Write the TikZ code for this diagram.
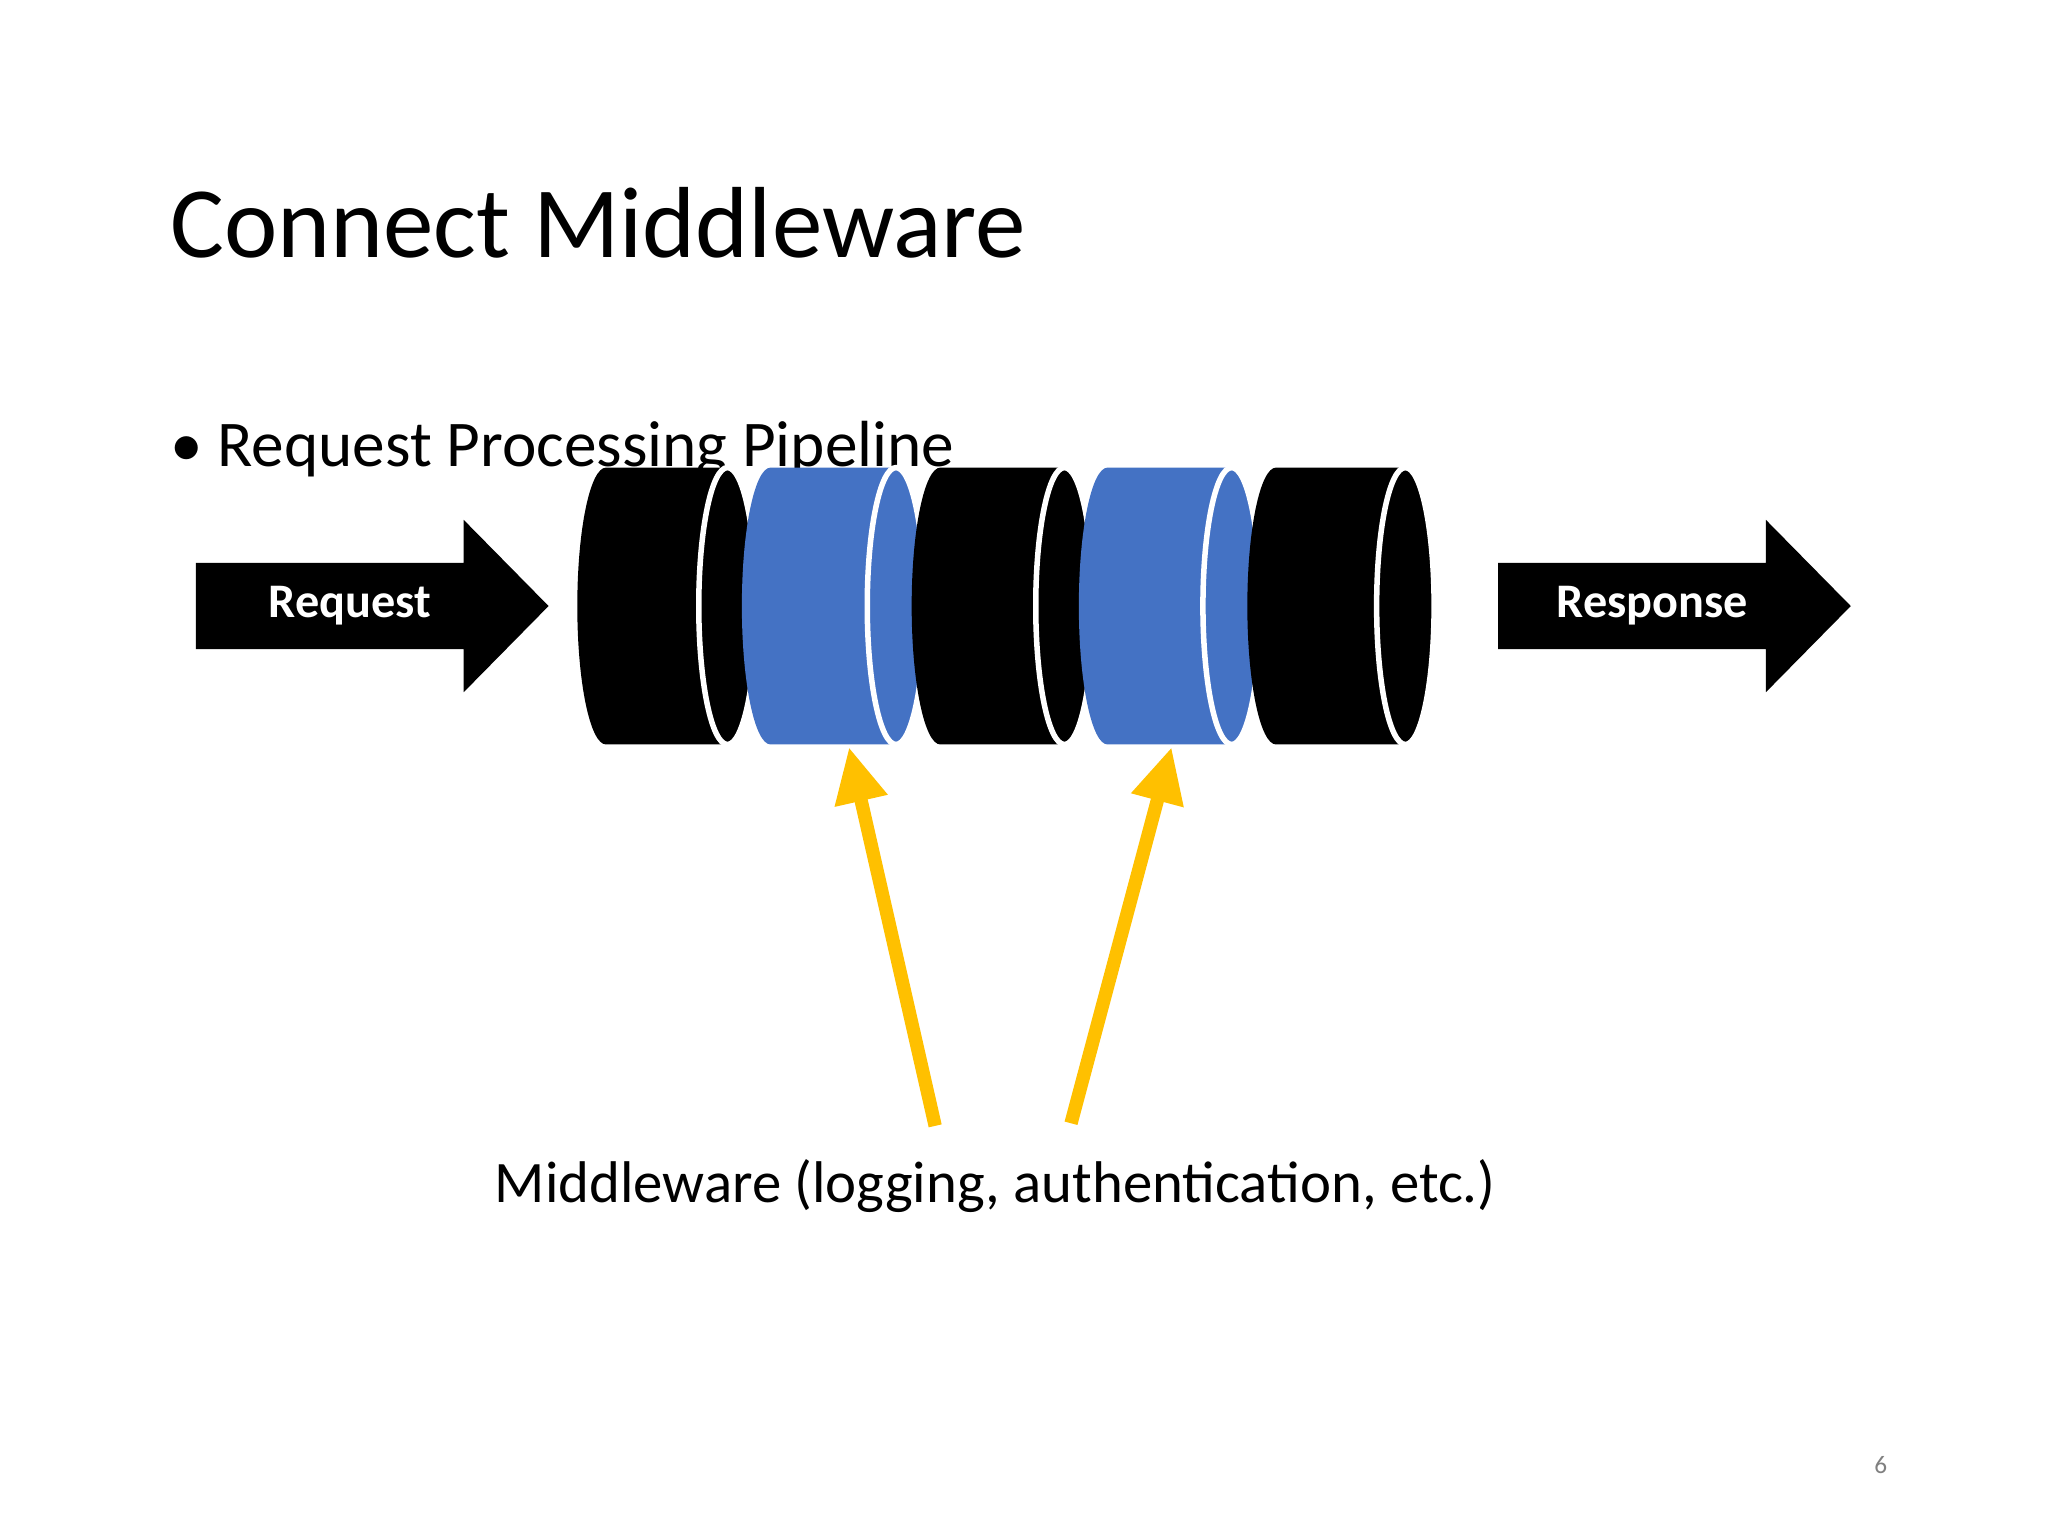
\documentclass[tikz,border=0pt]{standalone}
\usepackage{fontspec}
\setmainfont{Carlito}
\usetikzlibrary{arrows.meta}
\definecolor{mwblue}{HTML}{4472C4}
\definecolor{mwgold}{HTML}{FFC000}
\begin{document}
\begin{tikzpicture}[x=0.01cm,y=-0.01cm,
  seg/.style={line width=1.2pt,draw=white},
  blockarrow/.style={fill=black},
  hint/.style={draw=mwgold,line width=2.9pt,-{Triangle[width=11pt,length=12pt]}}]
\useasboundingbox (0,0) rectangle (1568,1176);
\pgfmathsetmacro{\ktop}{358}
\pgfmathsetmacro{\kbot}{570}
\pgfmathsetmacro{\krx}{22}
\node[anchor=base west,font=\fontsize{22}{26}\selectfont\addfontfeature{}] (title) at (118,197) {Connect Middleware};
\node[anchor=base west,font=\fontsize{14.2}{17}\selectfont] (bullet) at (118,357) {\textbullet\ Request Processing Pipeline};
\foreach \L/\R/\c/\n in {464/557/black/1,590/686/mwblue/2,720/815/black/3,848/943/mwblue/4,977/1076/black/5}{
  \fill[\c] (\L,\ktop) arc[start angle=90,end angle=270,x radius=\krx,y radius=-106] -- (\R,\kbot) -- (\R,\ktop) -- cycle;
  \filldraw[\c,seg] (\R,464) ellipse[x radius=\krx,y radius=106];
  \coordinate (s\n) at (\R-48,\kbot);}
\fill[blockarrow] (150,431) -- (355,431) -- (355,398) -- (420,464) -- (355,530) -- (355,497) -- (150,497) -- cycle;
\fill[blockarrow] (1147,431) -- (1352,431) -- (1352,398) -- (1417,464) -- (1352,530) -- (1352,497) -- (1147,497) -- cycle;
\node[white,font=\fontsize{10.5}{12}\selectfont\bfseries] (req) at (268,464) {Request};
\node[white,font=\fontsize{10.5}{12}\selectfont\bfseries] (resp) at (1265,464) {Response};
\node[anchor=base,font=\fontsize{12.8}{15}\selectfont] (mw) at (762,921) {Middleware (logging, authentication, etc.)};
\coordinate (m1) at (716,862);
\coordinate (m2) at (820,860);
\coordinate (t1) at (650,572);
\coordinate (t2) at (897,572);
\draw[hint] (m1) -- (t1);
\draw[hint] (m2) -- (t2);
\node[gray,font=\fontsize{5.5}{7}\selectfont] (pg) at (1440,1122) {6};
\end{tikzpicture}
\end{document}
